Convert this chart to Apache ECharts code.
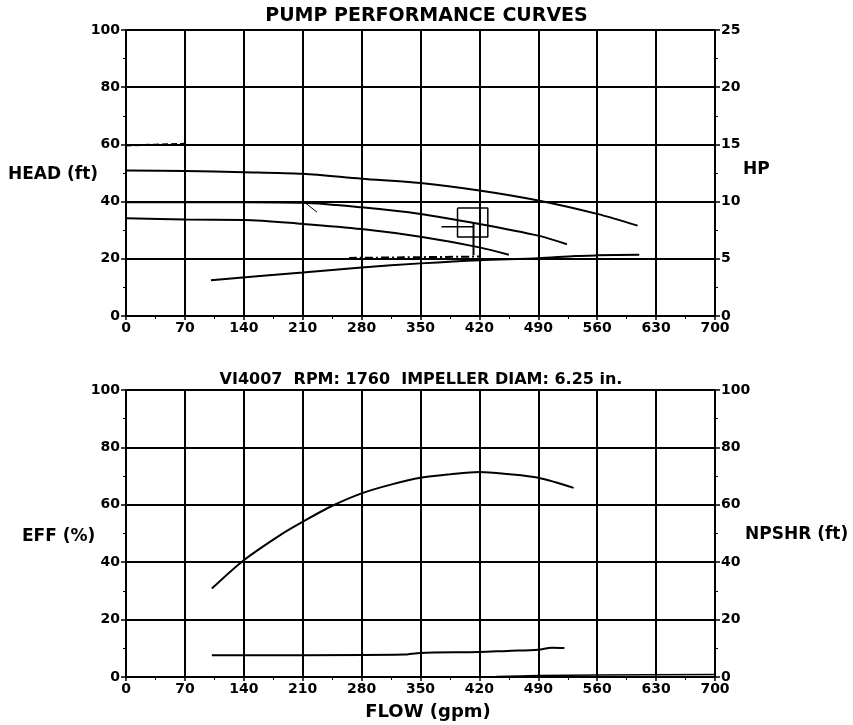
<!DOCTYPE html>
<html>
<head>
<meta charset="utf-8">
<script src="https://cdn.jsdelivr.net/npm/echarts@6/dist/echarts.min.js"></script>
<style>
  html, body { margin: 0; padding: 0; background: #fff; }
  #chart { width: 853px; height: 725px; }
</style>
</head>
<body>
<div id="chart"></div>
<script>
// Flow axis ticks (gpm)
var flowTicks = [0, 70, 140, 210, 280, 350, 420, 490, 560, 630, 700];

// Head curves, ft, as [flow gpm, head ft]
var headLargeStub = [[0, 59.6], [35, 59.9], [70, 60.2]];
var headMax = [[0, 50.9], [70, 50.7], [140, 50.3], [210, 49.7], [280, 48.0], [350, 46.5], [420, 43.9], [490, 40.4], [560, 35.7], [608, 31.6]];
var headRated = [[0, 39.8], [70, 39.8], [140, 39.8], [210, 39.6], [280, 38.0], [350, 35.7], [420, 32.2], [490, 28.1], [524, 25.1]];
var headMin = [[0, 34.2], [70, 33.7], [140, 33.6], [210, 32.2], [280, 30.4], [350, 27.7], [420, 24.0], [455, 21.4]];
var headSlash = [[212, 39.8], [227, 36.3]];
var headDashed = [[265, 20.3], [330, 20.5], [420, 20.8]];

// Horsepower curve, HP
var hpCurve = [[101, 3.13], [210, 3.8], [280, 4.25], [350, 4.6], [420, 4.88], [490, 5.05], [534, 5.25], [560, 5.3], [610, 5.35]];

// Duty point marker, ft
var dutyBox = [[394, 37.8], [430, 37.8], [430, 27.6], [394, 27.6], [394, 37.8]];
var dutyHoriz = [[375, 31.2], [413, 31.2]];
var dutyVert = [[413, 32.5], [413, 21.3]];

// Efficiency, %
var effCurve = [[102, 30.8], [140, 40.7], [185, 49.8], [210, 54.1], [244, 59.5], [280, 64.0], [317, 67.2], [350, 69.4], [385, 70.6], [420, 71.4], [453, 70.7], [490, 69.4], [532, 65.9]];

// NPSHR, ft
var npshrCurve = [[102, 7.6], [210, 7.6], [330, 7.8], [350, 8.4], [420, 8.7], [453, 9.1], [490, 9.5], [506, 10.2], [521, 10.1]];
var baseCurve = [[440, 0.2], [490, 0.5], [560, 0.7], [700, 0.9]];

// Left/right tick values
var headTicks = [0, 20, 40, 60, 80, 100];
var hpTicks = [0, 5, 10, 15, 20, 25];
var effTicks = [0, 20, 40, 60, 80, 100];
var npshrTicks = [0, 20, 40, 60, 80, 100];

var FONT = 'DejaVu Sans';
var INK = '#000';

function axisRange(ticks) {
  return { min: ticks[0], max: ticks[ticks.length - 1], interval: ticks[1] - ticks[0] };
}

function xAxisFor(gridIndex) {
  var r = axisRange(flowTicks);
  return {
    type: 'value', gridIndex: gridIndex, min: r.min, max: r.max, interval: r.interval,
    axisLine: { show: true, lineStyle: { color: INK, width: 2 } },
    axisTick: { show: true, length: 4, lineStyle: { color: INK, width: 1.5 } },
    minorTick: { show: true, splitNumber: 2, length: 3, lineStyle: { color: INK, width: 1 } },
    axisLabel: { color: INK, fontFamily: FONT, fontWeight: 'bold', fontSize: 14, margin: 5 },
    splitLine: { show: true, lineStyle: { color: INK, width: 2 } }
  };
}

function yAxisFor(gridIndex, ticks, pos, grid) {
  var r = axisRange(ticks);
  return {
    type: 'value', gridIndex: gridIndex, position: pos, min: r.min, max: r.max, interval: r.interval,
    axisLine: { show: true, lineStyle: { color: INK, width: 2 } },
    axisTick: { show: true, length: 5, lineStyle: { color: INK, width: 1.5 } },
    minorTick: { show: true, splitNumber: 2, length: 3, lineStyle: { color: INK, width: 1 } },
    axisLabel: { color: INK, fontFamily: FONT, fontWeight: 'bold', fontSize: 14, margin: 6 },
    splitLine: { show: grid, lineStyle: { color: INK, width: 2 } }
  };
}

function curve(data, xi, yi, opts) {
  opts = opts || {};
  return {
    type: 'line', xAxisIndex: xi, yAxisIndex: yi, data: data,
    smooth: opts.smooth === false ? false : 0.3,
    symbol: 'none', silent: true, z: 5,
    lineStyle: { color: INK, width: opts.width || 2, type: opts.type || 'solid' }
  };
}

var chart = echarts.init(document.getElementById('chart'), null, { renderer: 'canvas' });

chart.setOption({
  backgroundColor: '#fff',
  animation: false,
  grid: [
    { left: 126, right: 138, top: 30, height: 286 },
    { left: 126, right: 138, top: 390, height: 287 }
  ],
  xAxis: [xAxisFor(0), xAxisFor(1)],
  yAxis: [
    yAxisFor(0, headTicks, 'left', true),
    yAxisFor(0, hpTicks, 'right', false),
    yAxisFor(1, effTicks, 'left', true),
    yAxisFor(1, npshrTicks, 'right', false)
  ],
  series: [
    curve(headLargeStub, 0, 0, { type: [6, 3] }),
    curve(headMax, 0, 0),
    curve(headRated, 0, 0),
    curve(headMin, 0, 0),
    curve(headSlash, 0, 0, { smooth: false, width: 1 }),
    curve(headDashed, 0, 0, { type: [8, 3, 2, 3] }),
    curve(hpCurve, 0, 1),
    curve(dutyBox, 0, 0, { smooth: false, width: 1.5 }),
    curve(dutyHoriz, 0, 0, { smooth: false, width: 1.5 }),
    curve(dutyVert, 0, 0, { smooth: false, width: 2 }),
    curve(effCurve, 1, 2),
    curve(npshrCurve, 1, 3),
    curve(baseCurve, 1, 3, { width: 1.5 })
  ],
  graphic: [
    { type: 'text', left: 'center', x: 422, y: 16,
      style: { text: 'PUMP PERFORMANCE CURVES', fill: INK, font: 'bold 19px "DejaVu Sans"', textAlign: 'center', textVerticalAlign: 'middle' } },
    { type: 'text', x: 421, y: 380,
      style: { text: 'VI4007  RPM: 1760  IMPELLER DIAM: 6.25 in.', fill: INK, font: 'bold 16px "DejaVu Sans"', textAlign: 'center', textVerticalAlign: 'middle' } },
    { type: 'text', x: 8, y: 175,
      style: { text: 'HEAD (ft)', fill: INK, font: 'bold 17px "DejaVu Sans"', textAlign: 'left', textVerticalAlign: 'middle' } },
    { type: 'text', x: 743, y: 170,
      style: { text: 'HP', fill: INK, font: 'bold 17px "DejaVu Sans"', textAlign: 'left', textVerticalAlign: 'middle' } },
    { type: 'text', x: 22, y: 537,
      style: { text: 'EFF (%)', fill: INK, font: 'bold 17px "DejaVu Sans"', textAlign: 'left', textVerticalAlign: 'middle' } },
    { type: 'text', x: 745, y: 535,
      style: { text: 'NPSHR (ft)', fill: INK, font: 'bold 17px "DejaVu Sans"', textAlign: 'left', textVerticalAlign: 'middle' } },
    { type: 'text', x: 428, y: 712,
      style: { text: 'FLOW (gpm)', fill: INK, font: 'bold 18px "DejaVu Sans"', textAlign: 'center', textVerticalAlign: 'middle' } }
  ]
});
</script>
</body>
</html>
